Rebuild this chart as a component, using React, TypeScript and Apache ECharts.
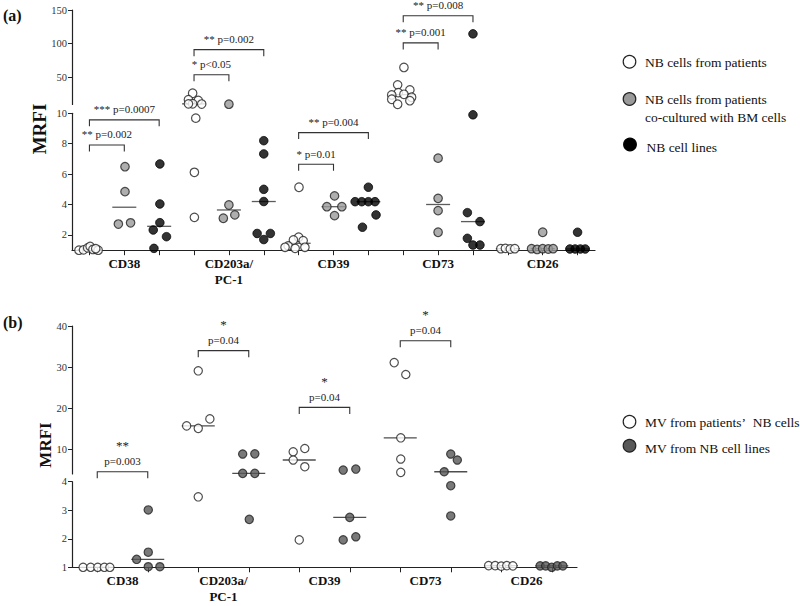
import React, { useEffect, useRef } from 'react';
import * as echarts from 'echarts';

// ---------- Panel (a) ----------
const markersA = ['CD38', 'CD203a/\nPC-1', 'CD39', 'CD73', 'CD26'];
const seriesA = ['NB cells from patients', 'NB cells from patients co-cultured with BM cells', 'NB cell lines'];
const tickLabelsAUpper = [50, 100, 150];
const tickLabelsALower = [2, 4, 6, 8, 10];

// values per marker (CD38, CD203a, CD39, CD73, CD26)
const aPatientsVals = [
  [1.0, 1.02, 1.15, 1.25, 1.05, 1.0, 1.1],
  [26.5, 17, 16, 11, 10.5, 10.8, 9.68, 6.12, 3.16],
  [5.14, 1.85, 1.67, 1.63, 1.28, 1.19, 1.19, 1.12],
  [64.8, 39, 31.5, 27.5, 25, 24, 20.6, 17.6, 15.5, 10.2],
  [1.1, 1.12, 1.08, 1.1],
];
const aPatientsDx = [
  [-0.3, -0.17, -0.05, 0.02, 0.1, 0.25, 0.18],
  [-0.04, -0.16, 0.12, -0.04, 0.22, -0.16, 0.05, 0.01, 0.01],
  [0.01, 0, -0.15, 0.13, -0.3, 0.18, -0.39, -0.1],
  [0.02, -0.16, 0.19, -0.14, 0.02, -0.33, 0.24, -0.33, 0.19, -0.16],
  [-0.2, -0.07, 0.07, 0.2],
];
const aCocultVals = [
  [6.49, 4.85, 2.8, 2.72],
  [10.3, 3.97, 3.32, 3.1],
  [4.57, 3.86, 3.86, 3.27],
  [7.05, 4.41, 3.6, 2.18],
  [2.18, 1.1, 1.05, 1.1, 1.08, 1.1],
];
const aCocultDx = [
  [0.02, 0.02, 0.18, -0.17],
  [0, 0, 0.17, -0.16],
  [0.03, -0.19, 0.24, 0.03],
  [0, 0, 0, 0],
  [0, -0.32, -0.16, 0, 0.16, 0.3],
];
const aLinesVals = [
  [6.67, 4.04, 2.81, 2.33, 1.89, 1.12],
  [8.2, 7.33, 5.0, 4.2, 2.1, 2.1, 1.7],
  [5.14, 4.19, 4.19, 4.19, 4.19, 3.32, 2.51],
  [114.6, 9.9, 3.47, 2.88, 1.78, 1.34, 1.34],
  [2.18, 1.08, 1.08, 1.08, 1.08],
];
const aLinesDx = [
  [0.02, 0.02, 0.02, -0.17, 0.21, -0.15],
  [0, 0, 0, 0, -0.19, 0.19, 0],
  [0, -0.38, -0.19, 0, 0.19, 0.22, -0.17],
  [0, 0, -0.16, 0.2, -0.16, 0, 0.2],
  [0, -0.22, -0.07, 0.08, 0.22],
];
// significance brackets [fromGroup, toGroup, level]
const aBracketsLower = [[0, 2, 9.57], [0, 1, 7.92], [6, 8, 8.73], [6, 7, 6.65]];
const aBracketsLowerText = ['*** p=0.0007', '** p=0.002', '** p=0.004', '* p=0.01'];
const aBracketsUpper = [[3, 5, 91.2], [3, 4, 53.9], [9, 11, 141.5], [9, 10, 101.2]];
const aBracketsUpperText = ['** p=0.002', '* p<0.05', '** p=0.008', '** p=0.001'];

// ---------- Panel (b) ----------
const markersB = ['CD38', 'CD203a/\nPC-1', 'CD39', 'CD73', 'CD26'];
const seriesB = ['MV from patients\u2019\u00a0 NB cells', 'MV from NB cell lines'];
const tickLabelsBUpper = [10, 20, 30, 40];
const tickLabelsBLower = [1, 2, 3, 4];
const bPatientsVals = [
  [1, 1, 1, 1, 1],
  [29.1, 15.7, 15.1, 17.4, 3.47],
  [9.4, 10.2, 7.4, 5.77, 1.96],
  [31.1, 28.2, 12.8, 7.64, 4.4],
  [1.06, 1.06, 1.04, 1.06, 1.05],
];
const bPatientsDx = [
  [-0.28, -0.13, 0.01, 0.14, 0.25],
  [0, -0.23, 0, 0.23, 0],
  [-0.12, 0.11, -0.12, 0.11, 0],
  [-0.12, 0.11, 0.01, 0.01, 0.01],
  [-0.25, -0.12, 0, 0.11, 0.23],
];
const bLinesVals = [
  [3.01, 1.53, 1.28, 1.02, 1.02],
  [8.86, 8.9, 4.16, 4.16, 2.68],
  [4.96, 5.2, 2.75, 1.96, 2.07],
  [8.86, 7.4, 4.55, 3.86, 2.8],
  [1.05, 1.05, 1.0, 1.05, 1.05],
];
const bLinesDx = [
  [0.01, 0.01, -0.22, 0.01, 0.24],
  [-0.12, 0.12, -0.12, 0.12, 0.01],
  [-0.13, 0.12, 0, -0.13, 0.12],
  [0, 0.13, -0.13, 0, 0],
  [-0.23, -0.12, 0, 0.11, 0.22],
];
const bBracketsUpper = [[0, 1, 4.56], [2, 3, 34.0], [4, 5, 20.2], [6, 7, 36.4]];
const bBracketsStars = ['**', '*', '*', '*'];
const bBracketsText = ['p=0.003', 'p=0.04', 'p=0.04', 'p=0.04'];

const SERIF = "'Liberation Serif', 'Times New Roman', serif";

function median(a: number[]) {
  const s = [...a].sort((x, y) => x - y);
  const n = s.length;
  return n % 2 ? s[(n - 1) / 2] : (s[n / 2 - 1] + s[n / 2]) / 2;
}

function buildPoints(vals: number[][], dx: number[][], nSeries: number, sIdx: number, thr: number) {
  const up: number[][] = [];
  const low: number[][] = [];
  vals.forEach((g, m) => {
    const base = m * nSeries + sIdx;
    g.forEach((v, i) => {
      const p = [base + dx[m][i], v];
      if (v > thr) up.push(p); else low.push(p);
    });
  });
  return { up, low };
}

function buildMedians(vals: number[][], nSeries: number, sIdx: number, thr: number) {
  const up: number[][] = [];
  const low: number[][] = [];
  vals.forEach((g, m) => {
    const md = median(g);
    const p = [m * nSeries + sIdx, md];
    if (md > thr) up.push(p); else low.push(p);
  });
  return { up, low };
}

function bracketSeries(axisIdx: number, rows: number[][], texts: string[], stars: string[] | null) {
  return {
    type: 'custom',
    xAxisIndex: axisIdx,
    yAxisIndex: axisIdx,
    data: rows,
    clip: false,
    silent: true,
    z: 5,
    renderItem: (params: any, api: any) => {
      const i = params.dataIndex;
      const p1 = api.coord([api.value(0), api.value(2)]);
      const p2 = api.coord([api.value(1), api.value(2)]);
      const leg = 6.5;
      const cx = (p1[0] + p2[0]) / 2;
      const children: any[] = [
        {
          type: 'polyline',
          shape: { points: [[p1[0], p1[1] + leg], [p1[0], p1[1]], [p2[0], p2[1]], [p2[0], p2[1] + leg]] },
          style: { stroke: '#333', lineWidth: 1.1, fill: null },
        },
        {
          type: 'text',
          x: cx,
          y: p1[1] - 10.5,
          style: { text: texts[i], fill: '#222', fontSize: 11, fontFamily: SERIF, align: 'center', verticalAlign: 'middle' },
        },
      ];
      if (stars) {
        children.push({
          type: 'text',
          x: cx,
          y: p1[1] - 26,
          style: { text: stars[i], fill: '#222', fontSize: 13, fontFamily: SERIF, align: 'center', verticalAlign: 'middle' },
        });
      }
      return { type: 'group', children };
    },
  };
}

export default function App() {
  const ref = useRef<HTMLDivElement>(null);
  useEffect(() => {
    if (!ref.current) return;
    const chart = echarts.init(ref.current, undefined, { renderer: 'svg' });

    const axisColor = '#222';
    const tickLabel = { fontSize: 10.5, fontFamily: SERIF, color: '#333', margin: 5 };
    const yAxisBase = (grid: number, min: number, max: number, ticks: number[]) => ({
      type: 'value',
      gridIndex: grid,
      min,
      max,
      axisLine: { show: true, onZero: false, lineStyle: { color: axisColor, width: 1.2 } },
      axisTick: { show: true, customValues: ticks, length: 4, lineStyle: { color: axisColor } },
      axisLabel: { ...tickLabel, customValues: ticks },
      splitLine: { show: false },
    });
    const xAxisBottom = (grid: number, max: number, ticks: number[], labelPos: number[], labelFn: (v: number) => string) => ({
      type: 'value',
      gridIndex: grid,
      min: -0.5,
      max,
      axisLine: { show: true, onZero: false, lineStyle: { color: axisColor, width: 1.2 } },
      axisTick: { show: true, customValues: ticks, length: 5, lineStyle: { color: axisColor } },
      axisLabel: {
        customValues: labelPos,
        formatter: labelFn,
        fontFamily: SERIF,
        fontWeight: 'bold',
        fontSize: 13,
        color: '#111',
        margin: 5,
        lineHeight: 16,
      },
      splitLine: { show: false },
    });

    const aTicks = markersA.flatMap((_, m) => [0, 1, 2].map((s) => m * 3 + s));
    const aLabelPos = markersA.map((_, m) => m * 3 + 1);
    const bTicks = markersB.flatMap((_, m) => [0, 1].map((s) => m * 2 + s));
    const bLabelPos = markersB.map((_, m) => m * 2 + 0.5);

    const styleA = [
      { color: '#ffffff', borderColor: '#222', borderWidth: 1.2 },
      { color: '#9a9a9a', borderColor: '#222', borderWidth: 1.2 },
      { color: '#000000', borderColor: '#000', borderWidth: 1 },
    ];
    const styleB = [
      { color: '#ffffff', borderColor: '#222', borderWidth: 1.2 },
      { color: '#585858', borderColor: '#222', borderWidth: 1.2 },
    ];

    const series: any[] = [];
    const aVals = [aPatientsVals, aCocultVals, aLinesVals];
    const aDx = [aPatientsDx, aCocultDx, aLinesDx];
    aVals.forEach((vals, s) => {
      const pts = buildPoints(vals, aDx[s], 3, s, 10);
      const md = buildMedians(vals, 3, s, 10);
      series.push(
        { type: 'scatter', name: seriesA[s], xAxisIndex: 0, yAxisIndex: 0, data: pts.up, symbolSize: 8.5, itemStyle: styleA[s], z: 3 },
        { type: 'scatter', name: seriesA[s], xAxisIndex: 1, yAxisIndex: 1, data: pts.low, symbolSize: 8.5, itemStyle: styleA[s], z: 3 },
        { type: 'scatter', name: seriesA[s] + ' median', xAxisIndex: 0, yAxisIndex: 0, data: md.up, symbol: 'rect', symbolSize: [24, 1.3], itemStyle: { color: '#333' }, z: 2 },
        { type: 'scatter', name: seriesA[s] + ' median', xAxisIndex: 1, yAxisIndex: 1, data: md.low, symbol: 'rect', symbolSize: [24, 1.3], itemStyle: { color: '#333' }, z: 2 },
      );
    });
    const bVals = [bPatientsVals, bLinesVals];
    const bDx = [bPatientsDx, bLinesDx];
    bVals.forEach((vals, s) => {
      const pts = buildPoints(vals, bDx[s], 2, s, 4);
      const md = buildMedians(vals, 2, s, 4);
      series.push(
        { type: 'scatter', name: seriesB[s], xAxisIndex: 2, yAxisIndex: 2, data: pts.up, symbolSize: 8.3, itemStyle: styleB[s], z: 3 },
        { type: 'scatter', name: seriesB[s], xAxisIndex: 3, yAxisIndex: 3, data: pts.low, symbolSize: 8.3, itemStyle: styleB[s], z: 3 },
        { type: 'scatter', name: seriesB[s] + ' median', xAxisIndex: 2, yAxisIndex: 2, data: md.up, symbol: 'rect', symbolSize: [33, 1.3], itemStyle: { color: '#222' }, z: 2 },
        { type: 'scatter', name: seriesB[s] + ' median', xAxisIndex: 3, yAxisIndex: 3, data: md.low, symbol: 'rect', symbolSize: [33, 1.3], itemStyle: { color: '#222' }, z: 2 },
      );
    });
    series.push(bracketSeries(1, aBracketsLower, aBracketsLowerText, null));
    series.push(bracketSeries(0, aBracketsUpper, aBracketsUpperText, null));
    series.push(bracketSeries(2, bBracketsUpper, bBracketsText, bBracketsStars));

    const legendText = (x: number, y: number, text: string) => ({
      type: 'text',
      x,
      y,
      style: { text, fill: '#111', fontSize: 13.5, fontFamily: SERIF, align: 'left', verticalAlign: 'middle' },
    });
    const legendCircle = (cx: number, cy: number, st: any) => ({
      type: 'circle',
      shape: { cx, cy, r: 6.3 },
      style: { fill: st.color, stroke: st.borderColor, lineWidth: 1.2 },
    });

    const graphic: any[] = [
      { type: 'text', x: 3, y: 15, style: { text: '(a)', fill: '#111', fontSize: 16, fontWeight: 'bold', fontFamily: SERIF, verticalAlign: 'middle' } },
      { type: 'text', x: 3, y: 322, style: { text: '(b)', fill: '#111', fontSize: 16, fontWeight: 'bold', fontFamily: SERIF, verticalAlign: 'middle' } },
      { type: 'text', x: 39, y: 129, rotation: Math.PI / 2, style: { text: 'MRFI', fill: '#111', fontSize: 19, fontWeight: 'bold', fontFamily: SERIF, align: 'center', verticalAlign: 'middle' } },
      { type: 'text', x: 45, y: 445, rotation: Math.PI / 2, style: { text: 'MRFI', fill: '#111', fontSize: 17, fontWeight: 'bold', fontFamily: SERIF, align: 'center', verticalAlign: 'middle' } },
      legendCircle(629.5, 61.7, styleA[0]),
      legendText(645, 62, seriesA[0]),
      legendCircle(629.5, 99, styleA[1]),
      legendText(645, 99.5, 'NB cells from patients'),
      legendText(645, 117, 'co-cultured with BM cells'),
      legendCircle(630, 144.5, styleA[2]),
      legendText(646.5, 147, seriesA[2]),
      legendCircle(629.5, 421.7, styleB[0]),
      legendText(645, 422, seriesB[0]),
      legendCircle(629.5, 445.7, styleB[1]),
      legendText(645, 448.3, seriesB[1]),
    ];

    chart.setOption({
      animation: false,
      backgroundColor: '#ffffff',
      grid: [
        { left: 72, top: 10, width: 523, height: 94.4 },
        { left: 72, top: 113.3, width: 523, height: 136.9 },
        { left: 72, top: 326, width: 505, height: 148 },
        { left: 72, top: 481.7, width: 505, height: 85.6 },
      ],
      xAxis: [
        { type: 'value', gridIndex: 0, min: -0.5, max: 14.5, show: false },
        xAxisBottom(1, 14.5, aTicks, aLabelPos, (v: number) => markersA[Math.round((v - 1) / 3)] ?? ''),
        { type: 'value', gridIndex: 2, min: -0.5, max: 9.5, show: false },
        xAxisBottom(3, 9.5, bTicks, bLabelPos, (v: number) => markersB[Math.round((v - 0.5) / 2)] ?? ''),
      ],
      yAxis: [
        yAxisBase(0, 10, 150, tickLabelsAUpper),
        yAxisBase(1, 1, 10, tickLabelsALower),
        yAxisBase(2, 4, 40, tickLabelsBUpper),
        yAxisBase(3, 1, 4, tickLabelsBLower),
      ],
      series,
      graphic,
    });
    return () => chart.dispose();
  }, []);
  return <div ref={ref} style={{ position: 'fixed', left: 0, top: 0, width: 800, height: 606, background: '#fff' }} />;
}
